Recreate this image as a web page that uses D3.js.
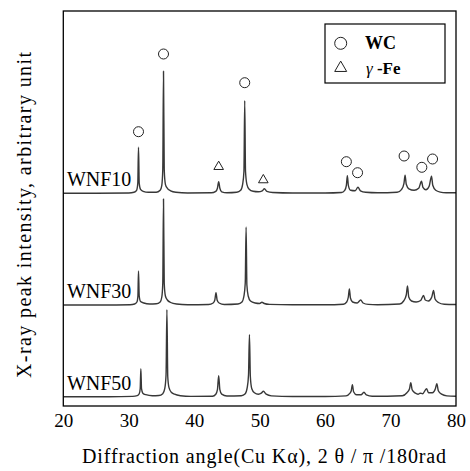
<html>

<head>
    <meta charset="utf-8">
    <style>
        body { margin: 0; background: #fff; }
        text { font-family: "Liberation Serif", "Times New Roman", serif; fill: #000; }
    </style>
</head>

<body>
    <script src="https://cdn.jsdelivr.net/npm/d3@7"></script>
    <script>
        // sample names, bottom to top is drawn with offsets
        var samples = ["WNF10", "WNF30", "WNF50"];
        var offsets = [212.7, 101, 9.3];   // baseline of each pattern, arbitrary units

        // [2theta, intensity above own baseline]
        var wnf10 = [[20,0],[25,0],[30,0.3],[30.8,1],[31.2,3],[31.38,10],[31.49,46],[31.6,10],[31.8,4],[32.2,2],[33,1],[34.2,1],
            [34.8,3],[35.05,8],[35.2,24],[35.31,122],[35.42,24],[35.6,9],[35.9,5],[36.4,2.5],[37.2,1],[39,0.3],
            [42.6,0.5],[43.3,2],[43.55,5],[43.74,11.6],[43.92,5],[44.2,1.5],[45,0.5],
            [46.5,1],[47.1,3],[47.4,9],[47.6,22],[47.72,92.6],[47.84,22],[48.05,9],[48.4,4],[49,2],[49.8,1.5],
            [50.4,2.5],[50.73,4.5],[51.1,2],[52,0.8],[55,0.3],[60,0.3],
            [62.5,0.8],[63.0,3],[63.25,8],[63.4,17.6],[63.55,8],[63.9,3],[64.6,2.5],[65.02,6],[65.4,2.5],[66.2,1],[68,0.5],
            [71,1],[71.7,4],[72.05,10],[72.22,18],[72.4,9],[72.8,4.5],[73.6,3],[74.3,5],[74.73,12],[74.95,6],[75.4,3.5],
            [75.9,7],[76.26,17],[76.45,8],[76.9,3],[77.6,1.2],[78.5,0.6],[80,0.5]];

        var wnf30 = [[20,0],[26,0],[30.2,0.3],[30.9,1],[31.25,3],[31.4,9],[31.49,34],[31.6,9],[31.8,3.5],[32.3,2],[33.2,1],[34.2,1.2],
            [34.8,3],[35.05,8],[35.2,22],[35.31,106],[35.42,22],[35.6,9],[35.9,5],[36.4,2.5],[37.3,1],[39,0.3],
            [42.2,0.5],[42.9,2],[43.15,5],[43.33,12.3],[43.5,5],[43.8,2],[44.6,0.5],
            [46.7,1],[47.3,3],[47.6,9],[47.8,22],[47.93,78],[48.05,20],[48.25,9],[48.6,4],[49.3,2],[50,1.5],
            [50.35,2.8],[50.7,1.5],[51.5,0.6],[55,0.2],[60,0.2],
            [62.8,0.8],[63.3,3],[63.55,8],[63.71,16],[63.87,7],[64.2,3],[64.9,2],[65.44,5],[65.8,2],[66.6,0.6],[68,0.3],
            [71.4,1],[72.0,4],[72.4,10],[72.59,19],[72.78,8],[73.2,4],[73.9,3],[74.6,4.5],[75.04,9.5],[75.3,5],[75.8,4],
            [76.3,8],[76.57,14.5],[76.8,6],[77.3,2.5],[78.2,0.8],[80,0.5]];

        var wnf50 = [[20,0],[27,0],[30.6,0.3],[31.3,1],[31.6,3],[31.75,8],[31.85,28],[31.95,8],[32.15,3.5],[32.6,2],[33.6,1],[34.6,1.2],
            [35.2,3],[35.5,8],[35.7,22],[35.83,87],[35.96,20],[36.15,9],[36.5,4.5],[37.0,2.5],[37.9,1],[39.5,0.3],
            [42.8,0.5],[43.3,2.5],[43.55,7],[43.74,21],[43.92,7],[44.2,2.5],[45,0.7],
            [47.2,1],[47.8,3],[48.1,9],[48.3,22],[48.44,62],[48.58,20],[48.8,8],[49.2,4],[49.8,2.5],
            [50.25,3.5],[50.58,5.5],[51.0,2.5],[51.8,0.8],[55,0.2],[60,0.2],
            [63.2,0.8],[63.8,3.5],[64.0,6],[64.17,12],[64.35,5],[64.8,2],[65.5,2],[65.94,4.5],[66.3,1.8],[67.2,0.5],
            [71.8,1],[72.5,4],[72.9,8],[73.09,14],[73.3,7],[73.8,3.5],[74.2,2.5],[74.52,3.5],[74.9,3],[75.5,8],[75.8,4],
            [76.4,4],[76.85,8],[77.07,13],[77.3,6],[77.8,2.5],[78.6,0.8],[80,0.5]];

        var patterns = [wnf10, wnf30, wnf50];

        // phase markers above WNF10 (height above its baseline)
        var wcMarks = [[31.49,61.6],[35.31,139.3],[47.72,110.6],[63.25,31.6],[64.96,20.6],[72.07,37.3],[74.78,26],[76.42,34.3]];
        var feMarks = [[43.74,26.6],[50.56,13.3]];

        var xTicks = [20, 30, 40, 50, 60, 70, 80];

        var width = 470, height = 471;
        var margin = { left: 63.3, top: 11, right: 14, bottom: 65 };

        var svg = d3.select("body")
            .append("svg")
            .attr("width", width)
            .attr("height", height);

        var x = d3.scaleLinear().domain([20, 80]).range([margin.left, width - margin.right]);
        var y = d3.scaleLinear().domain([0, 395]).range([height - margin.bottom, margin.top]);

        var line = d3.line()
            .x(d => x(d[0]))
            .curve(d3.curveMonotoneX);

        var gc = svg.append("g");

        patterns.forEach(function (p, i) {
            gc.append("path")
                .datum(p)
                .attr("fill", "none")
                .attr("stroke", "#383838")
                .attr("stroke-width", 1.4)
                .attr("stroke-linejoin", "round")
                .attr("d", line.y(d => y(d[1] + offsets[i])));

            gc.append("text")
                .attr("x", x(30.4))
                .attr("y", y(offsets[i]) - 7)
                .attr("text-anchor", "end")
                .style("font-size", "20px")
                .text(samples[i]);
        });

        // frame
        svg.append("rect")
            .attr("x", x(20))
            .attr("y", y(395))
            .attr("width", x(80) - x(20))
            .attr("height", y(0) - y(395))
            .attr("fill", "none")
            .attr("stroke", "#000")
            .attr("stroke-width", 1.3);

        // x axis: labels only, no tick marks
        var xAxis = svg.append("g")
            .attr("transform", "translate(0," + y(0) + ")")
            .call(d3.axisBottom(x).tickValues(xTicks).tickSize(0).tickPadding(8).tickFormat(d3.format("d")));
        xAxis.select(".domain").remove();
        xAxis.selectAll("text")
            .attr("dy", null)
            .attr("y", 21)
            .style("font-family", "'Liberation Serif', serif")
            .style("font-size", "19px")
            .attr("fill", "#000");

        // markers
        var mk = svg.append("g").attr("fill", "none").attr("stroke", "#222").attr("stroke-width", 1);
        mk.selectAll("circle")
            .data(wcMarks)
            .enter()
            .append("circle")
            .attr("cx", d => x(d[0]))
            .attr("cy", d => y(d[1] + offsets[0]))
            .attr("r", 5);
        mk.selectAll("path")
            .data(feMarks)
            .enter()
            .append("path")
            .attr("transform", d => "translate(" + x(d[0]) + "," + y(d[1] + offsets[0]) + ")")
            .attr("d", d3.symbol(d3.symbolTriangle, 40));

        // legend
        var lg = svg.append("g");
        lg.append("rect")
            .attr("x", 325).attr("y", 24)
            .attr("width", 120).attr("height", 59)
            .attr("fill", "#fff").attr("stroke", "#000").attr("stroke-width", 1.2);
        lg.append("circle")
            .attr("cx", 340.7).attr("cy", 43.3).attr("r", 6)
            .attr("fill", "none").attr("stroke", "#222").attr("stroke-width", 1);
        lg.append("path")
            .attr("transform", "translate(340.7,68)")
            .attr("d", d3.symbol(d3.symbolTriangle, 62))
            .attr("fill", "none").attr("stroke", "#222").attr("stroke-width", 1);
        lg.append("text")
            .attr("x", 365).attr("y", 49)
            .style("font-size", "18px").style("font-weight", "bold")
            .text("WC");
        var fe = lg.append("text")
            .attr("x", 366).attr("y", 73.5)
            .style("font-size", "17px");
        fe.append("tspan").style("font-style", "italic").text("γ");
        fe.append("tspan").style("font-weight", "bold").text(" -Fe");

        // axis titles
        svg.append("text")
            .attr("x", (82 + 446) / 2)
            .attr("y", 463)
            .attr("text-anchor", "middle")
            .attr("textLength", 364)
            .attr("lengthAdjust", "spacing")
            .style("font-size", "20px")
            .text("Diffraction angle(Cu Kα), 2 θ / π /180rad");

        svg.append("text")
            .attr("transform", "translate(31," + ((52 + 378) / 2) + ") rotate(-90)")
            .attr("text-anchor", "middle")
            .attr("textLength", 326)
            .attr("lengthAdjust", "spacing")
            .style("font-size", "20px")
            .text("X-ray peak intensity, arbitrary unit");
    </script>
</body>

</html>
